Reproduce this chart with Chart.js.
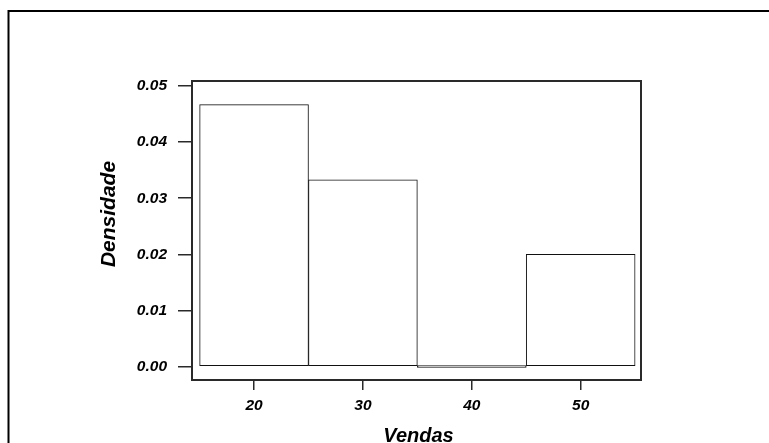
<!DOCTYPE html>
<html>
<head>
<meta charset="utf-8">
<script src="https://cdn.jsdelivr.net/npm/chart.js@4/dist/chart.umd.min.js"></script>
<style>
  html, body { margin: 0; padding: 0; background: #fff; }
  #wrap { width: 769px; height: 443px; position: relative; }
</style>
</head>
<body>
<div id="wrap"><canvas id="c" width="769" height="443"></canvas></div>
<script>
// Histogram data: bin centres (Vendas) and densities
const binCenters = [20, 30, 40, 50];
const densities = [0.0467, 0.0333, 0, 0.02];
const xTicks = [20, 30, 40, 50];
const yTicks = [0.00, 0.01, 0.02, 0.03, 0.04, 0.05];
const xTitle = 'Vendas';
const yTitle = 'Densidade';

const FONT = '"Liberation Sans", Arial, sans-serif';
const INK = '#111111';

const decor = {
  id: 'decor',
  beforeDraw(chart) {
    const ctx = chart.ctx;
    ctx.save();
    ctx.fillStyle = '#fff';
    ctx.fillRect(0, 0, chart.width, chart.height);
    // outer frame (top and left visible)
    ctx.strokeStyle = '#000';
    ctx.lineWidth = 2;
    ctx.beginPath();
    ctx.moveTo(8.5, chart.height + 5);
    ctx.lineTo(8.5, 11);
    ctx.lineTo(chart.width + 5, 11);
    ctx.stroke();
    ctx.restore();
  },
  afterDraw(chart) {
    const ctx = chart.ctx;
    const a = chart.chartArea;
    ctx.save();
    ctx.strokeStyle = '#2a2a2a';
    ctx.lineWidth = 2;
    ctx.strokeRect(a.left, a.top, a.right - a.left, a.bottom - a.top);
    ctx.fillStyle = '#000';
    ctx.font = 'italic bold 20px ' + FONT;
    ctx.textAlign = 'center';
    ctx.textBaseline = 'alphabetic';
    ctx.fillText(xTitle, 418.5, 442);
    ctx.translate(115, 214);
    ctx.rotate(-Math.PI / 2);
    ctx.font = 'italic bold 21px ' + FONT;
    ctx.fillText(yTitle, 0, 0);
    ctx.restore();
  }
};

const tickFont = { family: FONT, size: 15.5, style: 'italic', weight: 'bold' };

new Chart(document.getElementById('c'), {
  type: 'bar',
  data: {
    datasets: [{
      data: binCenters.map((x, i) => ({ x: x, y: densities[i] })),
      backgroundColor: '#ffffff',
      borderColor: INK,
      borderWidth: 1,
      borderSkipped: false,
      minBarLength: 2,
      barPercentage: 1,
      categoryPercentage: 1
    }]
  },
  options: {
    responsive: false,
    devicePixelRatio: 1,
    animation: false,
    layout: { padding: { top: 81, right: 128, left: 0, bottom: 0 } },
    plugins: { legend: { display: false }, tooltip: { enabled: false } },
    scales: {
      x: {
        type: 'linear',
        offset: false,
        min: 14.3,
        max: 55.54,
        afterBuildTicks: s => { s.ticks = xTicks.map(v => ({ value: v })); },
        afterFit: s => { s.height = 63; },
        grid: { offset: false, drawOnChartArea: false, drawTicks: true, tickLength: 10, tickColor: '#2a2a2a', lineWidth: 1.5 },
        border: { display: false },
        ticks: { font: tickFont, color: '#000', padding: 6, maxRotation: 0, autoSkip: false, callback: v => String(v) }
      },
      y: {
        type: 'linear',
        min: -0.0024,
        max: 0.0509,
        afterBuildTicks: s => { s.ticks = yTicks.map(v => ({ value: v })); },
        afterFit: s => { s.width = 192; },
        grid: { drawOnChartArea: false, drawTicks: true, tickLength: 14, tickColor: '#2a2a2a', lineWidth: 1.5 },
        border: { display: false },
        ticks: { font: tickFont, color: '#000', padding: 11, callback: v => v.toFixed(2) }
      }
    }
  },
  plugins: [decor]
});
</script>
</body>
</html>
